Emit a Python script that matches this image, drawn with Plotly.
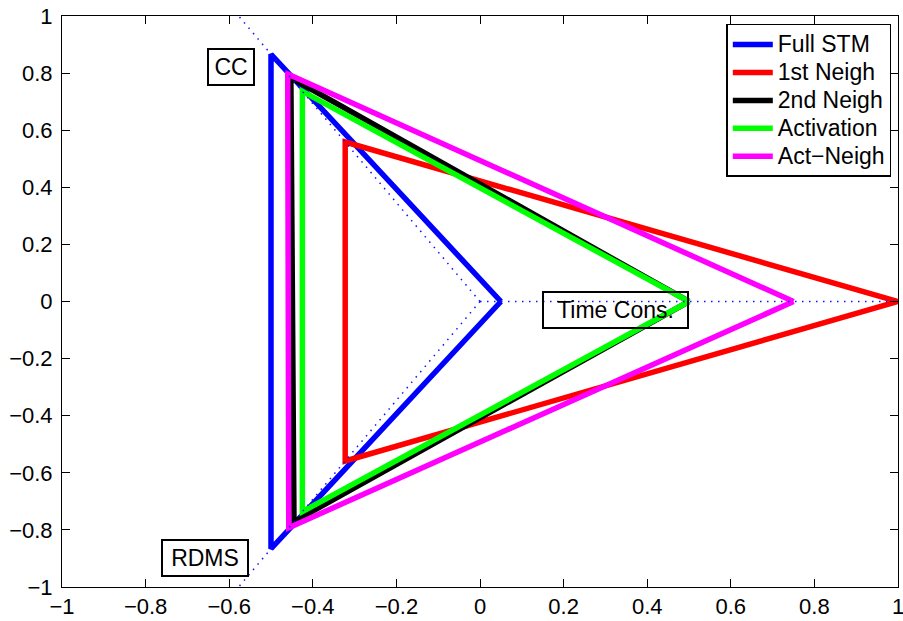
import numpy as np
import plotly.graph_objects as go

# Radar axes (angles in degrees): Time Cons., CC, RDMS
axis_names = ["Time Cons.", "CC", "RDMS"]
axis_angles = [0, 120, 240]

series_names = ["Full STM", "1st Neigh", "2nd Neigh", "Activation", "Act\u2212Neigh"]
series_colors = ["#0000ff", "#ff0000", "#000000", "#00ff00", "#ff00ff"]
# radius along each axis: [Time Cons., CC, RDMS]
full_stm = [0.05, 1.00, 1.00]
first_neigh = [1.00, 0.645, 0.645]
second_neigh = [0.50, 0.905, 0.89]
activation = [0.50, 0.85, 0.85]
act_neigh = [0.75, 0.92, 0.915]
series_values = [full_stm, first_neigh, second_neigh, activation, act_neigh]

axis_length = [1.0, 1.2, 1.2]
label_pos_x = [0.324, -0.596, -0.658]
label_pos_y = [-0.030, 0.821, -0.898]
label_box_w = [139, 40, 80]

ticks = [round(-1 + 0.2 * i, 1) for i in range(11)]
tick_text = [("\u2212" + f"{abs(t):g}") if t < 0 else f"{t:g}" for t in ticks]

FONT = "Liberation Sans, Arial, Helvetica, sans-serif"
ang = np.deg2rad(axis_angles)

fig = go.Figure()
for name, color, vals in zip(series_names, series_colors, series_values):
    r = np.array(vals + [vals[0]])
    a = np.append(ang, ang[0])
    fig.add_trace(go.Scatter(
        x=r * np.cos(a), y=r * np.sin(a), mode="lines",
        name='<span style="font-size:23px">' + name + "</span>",
        line=dict(color=color, width=5.5),
    ))

for k, L in enumerate(axis_length):
    fig.add_trace(go.Scatter(
        x=[0, L * np.cos(ang[k])], y=[0, L * np.sin(ang[k])], mode="lines",
        line=dict(color="#1010ff", width=1.5, dash="1.5px,5.5px"),
        showlegend=False, hoverinfo="skip",
    ))

for name, lx, ly, bw in zip(axis_names, label_pos_x, label_pos_y, label_box_w):
    fig.add_annotation(
        x=lx, y=ly, text=name, showarrow=False, width=bw, height=30,
        font=dict(family=FONT, size=23, color="black"),
        bordercolor="black", borderwidth=2, borderpad=2, bgcolor="rgba(0,0,0,0)",
    )

axis_common = dict(
    range=[-1, 1], showgrid=False, zeroline=False, showline=True, linecolor="black",
    linewidth=1, mirror="ticks", ticks="inside", ticklen=8, tickcolor="black",
    tickwidth=1, tickvals=ticks, ticktext=tick_text, automargin=False,
    ticklabeloverflow="allow",
    tickfont=dict(family=FONT, size=22, color="black"),
)

fig.update_layout(
    width=903, height=621,
    margin=dict(l=62, r=5, t=16, b=34),
    plot_bgcolor="white", paper_bgcolor="white",
    xaxis=axis_common, yaxis=dict(axis_common, ticklabelstandoff=4),
    showlegend=True,
    legend=dict(
        x=0.992, y=0.986, xanchor="right", yanchor="top",
        bgcolor="white", bordercolor="black", borderwidth=1.5,
        font=dict(family=FONT, size=19.2, color="black"),
        tracegroupgap=0, itemwidth=40,
    ),
)

fig.write_html("out.html")
